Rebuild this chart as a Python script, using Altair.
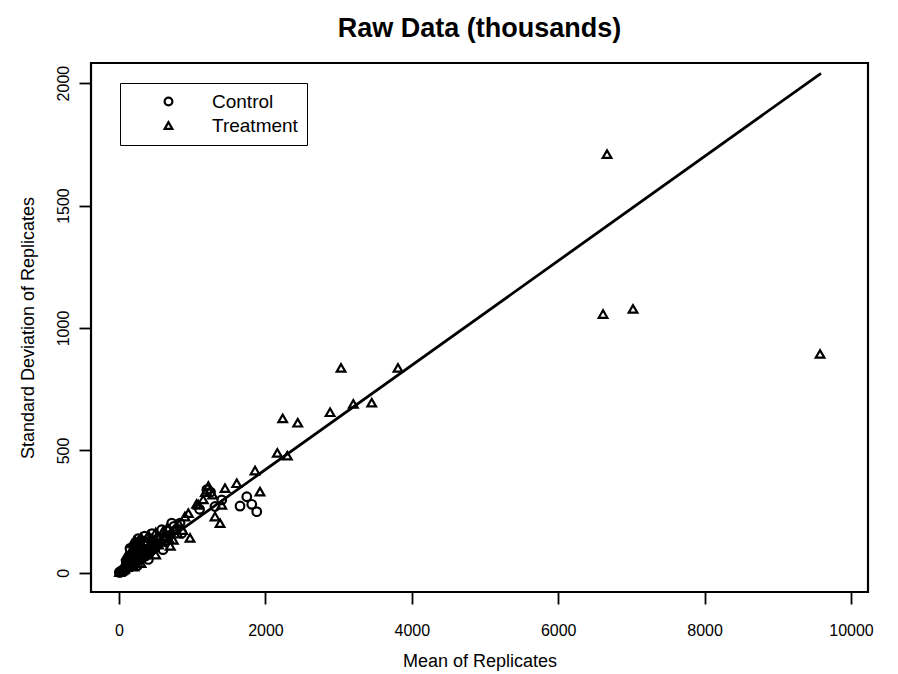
import altair as alt
import pandas as pd

# Control group (circles): mean and SD of replicates
ctrl_mean = [5, 12, 18, 25, 33, 40, 48, 55, 63, 70, 78, 85, 95, 105, 115, 125, 135, 148, 160, 172,
             185, 198, 212, 228, 245, 262, 280, 300, 320, 345, 370, 395, 425, 455, 490, 530, 583, 640,
             720, 790, 833, 857, 1100, 1200, 1250, 1311, 1403, 1653, 1745, 1813, 1881,
             100, 130, 160, 190, 220, 250, 280, 330, 370, 400, 430, 460, 350,
             480, 550, 620, 680, 750,
             150, 260, 350, 450, 250, 400, 600]
ctrl_sd = [2, 4, 3, 6, 8, 7, 11, 10, 14, 15, 17, 20, 19, 24, 22, 28, 26, 33, 30, 38,
           36, 44, 42, 50, 48, 58, 55, 65, 62, 72, 70, 82, 88, 95, 102, 115, 176, 150,
           203, 180, 203, 162, 260, 340, 330, 271, 298, 273, 311, 280, 250,
           45, 55, 65, 70, 85, 80, 90, 95, 110, 120, 105, 125, 130,
           130, 145, 130, 170, 190,
           100, 140, 150, 160, 30, 55, 95]

# Treatment group (triangles)
trt_mean = [8, 15, 22, 30, 38, 45, 52, 60, 68, 75, 88, 100, 112, 125, 138, 150, 165, 180, 195, 210,
            220, 230, 250, 270, 290, 310, 335, 360, 385, 410, 440, 470, 500, 540, 580, 628, 680, 742,
            800, 870, 947, 970, 1061, 1083, 1150, 1180, 1220, 1280, 1311, 1380, 1403, 1448, 1608,
            1858, 1926, 2163, 2236, 2299, 2441, 2883, 3033, 3201, 3452, 3811, 6612, 6667, 7022, 9577,
            150, 180, 200, 230, 250, 280, 300, 320, 260, 210, 170, 120, 90, 60, 140,
            450, 520, 600, 660, 700, 760, 820, 900,
            100, 180, 220, 300, 400, 500, 200, 300, 500, 700]
trt_sd = [3, 5, 8, 7, 12, 10, 15, 13, 18, 16, 22, 25, 23, 30, 35, 32, 40, 45, 42, 55,
          115, 100, 60, 68, 65, 75, 80, 90, 85, 95, 100, 110, 120, 115, 130, 148, 140, 135,
          160, 175, 244, 143, 282, 278, 300, 330, 355, 320, 230, 203, 278, 346, 366,
          418, 332, 490, 631, 479, 613, 656, 837, 690, 695, 837, 1057, 1710, 1078, 894,
          60, 90, 110, 125, 95, 100, 120, 105, 130, 80, 70, 50, 40, 30, 75,
          140, 150, 170, 185, 160, 175, 200, 230,
          70, 120, 130, 145, 155, 165, 25, 40, 75, 110]

# Fitted line end points
line_x = [0, 9590]
line_y = [-5, 2040]

x_ticks = [0, 2000, 4000, 6000, 8000, 10000]
y_ticks = [0, 500, 1000, 1500, 2000]

FONT = "Liberation Sans"

pts = pd.DataFrame({
    "mean": ctrl_mean + trt_mean,
    "sd": ctrl_sd + trt_sd,
    "group": ["Control"] * len(ctrl_mean) + ["Treatment"] * len(trt_mean),
})
line_df = pd.DataFrame({"mean": line_x, "sd": line_y})

xscale = alt.Scale(domain=[-383, 10232], nice=False, zero=False)
yscale = alt.Scale(domain=[-78, 2082], nice=False, zero=False)

xaxis = alt.Axis(values=x_ticks, grid=False, domain=False, tickColor="black", tickWidth=1.8,
                 tickSize=12, labelFont=FONT, labelFontSize=16, labelColor="black",
                 labelPadding=18, title="Mean of Replicates", titleFont=FONT, titleFontSize=18,
                 titleFontWeight="normal", titleColor="black", titlePadding=14, format="d")
yaxis = alt.Axis(values=y_ticks, grid=False, domain=False, tickColor="black", tickWidth=1.8,
                 tickSize=12, labelFont=FONT, labelFontSize=16, labelColor="black",
                 labelAngle=270, labelAlign="center", labelBaseline="bottom", labelPadding=8,
                 title="Standard Deviation of Replicates", titleFont=FONT, titleFontSize=18,
                 titleFontWeight="normal", titleColor="black", titlePadding=18, format="d")

points = alt.Chart(pts).mark_point(filled=False, color="black", strokeWidth=2.2, size=75, opacity=1).encode(
    x=alt.X("mean:Q", scale=xscale, axis=xaxis),
    y=alt.Y("sd:Q", scale=yscale, axis=yaxis),
    shape=alt.Shape("group:N", scale=alt.Scale(domain=["Control", "Treatment"], range=["circle", "triangle-up"]),
                    legend=alt.Legend(title=None, orient="none", legendX=29, legendY=20,
                                      padding=9, strokeColor="black", fillColor="white",
                                      symbolOffset=30, labelOffset=34, rowPadding=4,
                                      labelFont=FONT, labelFontSize=19, labelColor="black",
                                      symbolStrokeColor="black", symbolStrokeWidth=2.2, symbolSize=60,
                                      symbolFillColor="transparent")),
)

line = alt.Chart(line_df).mark_line(color="black", strokeWidth=2.8).encode(
    x=alt.X("mean:Q", scale=xscale),
    y=alt.Y("sd:Q", scale=yscale),
)

chart = alt.layer(line, points).properties(
    width=777, height=529,
    background="white",
    title=alt.TitleParams("Raw Data (thousands)", font=FONT, fontSize=27, fontWeight="bold",
                          color="black", anchor="middle", offset=20),
    autosize=alt.AutoSizeParams(type="none"),
    padding={"left": 91, "top": 63, "right": 30, "bottom": 82},
).configure_view(stroke="black", strokeWidth=2.2)

chart.save("out.html", embed_options={"renderer": "svg", "actions": False})
